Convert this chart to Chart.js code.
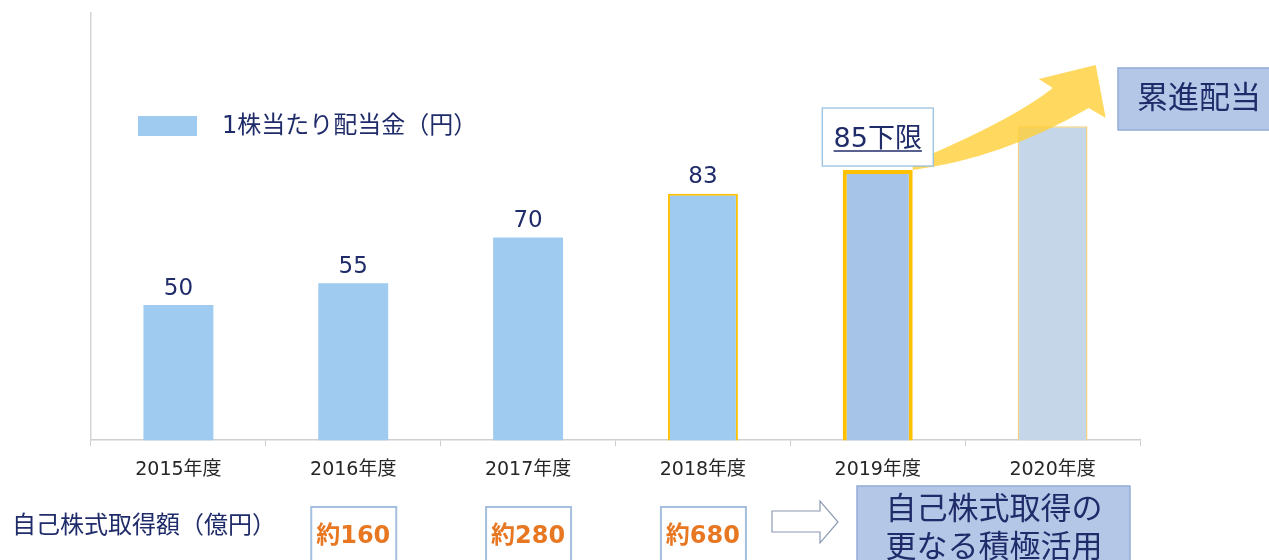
<!DOCTYPE html>
<html>
<head>
<meta charset="utf-8">
<script src="https://cdn.jsdelivr.net/npm/chart.js@4"></script>
<style>
  html, body { margin: 0; padding: 0; background: #fff; }
  #wrap { width: 1269px; height: 560px; }
</style>
</head>
<body>
<div id="wrap"><canvas id="chart"></canvas></div>
<script>
const categories = ['2015年度', '2016年度', '2017年度', '2018年度', '2019年度', '2020年度'];
// bar heights as drawn in the picture
const barValues = [50, 56.5, 70, 83, 90, 103];
const valueLabels = ['50', '55', '70', '83', '85下限', ''];
const buybackLabels = ['', '約160', '約280', '約680', '', ''];
const legendLabel = '1株当たり配当金（円）';
const buybackTitle = '自己株式取得額（億円）';
const progressiveText = '累進配当';
const buybackNote = ['自己株式取得の', '更なる積極活用'];

const barFills = ['#9ecbef', '#9ecbef', '#9ecbef', '#9ecbef', '#a6c3e8', '#c6d6e9'];
const barEdges = ['#9ecbef', '#9ecbef', '#9ecbef', '#ffc000', '#ffc000', '#f2d27e'];
const barEdgeWidths = [0, 0, 0, 2, 4, 1.5];

const FONT = '"DejaVu Sans", "Noto Sans CJK JP", sans-serif';
const NAVY = '#202c6a';

const overlay = {
  id: 'overlay',
  afterDatasetsDraw(chart) {
    const ctx = chart.ctx;
    const bars = chart.getDatasetMeta(0).data;
    const xs = chart.scales.x;
    ctx.save();

    // value labels above bars
    ctx.fillStyle = NAVY;
    ctx.font = '23px ' + FONT;
    ctx.textAlign = 'center';
    ctx.textBaseline = 'bottom';
    for (let i = 0; i < 4; i++) {
      ctx.fillText(valueLabels[i], bars[i].x, bars[i].y - 5);
    }

    // yellow rising arrow from the 2019 bar
    const b4 = bars[4];
    const rx = b4.x + b4.width / 2, ty = b4.y;
    ctx.fillStyle = 'rgba(255, 208, 55, 0.8)';
    ctx.beginPath();
    ctx.moveTo(rx, ty - 8);
    ctx.quadraticCurveTo(rx + 100, ty - 50, rx + 140, ty - 82);
    ctx.lineTo(rx + 126, ty - 91);
    ctx.lineTo(rx + 183, ty - 105);
    ctx.lineTo(rx + 193, ty - 52);
    ctx.lineTo(rx + 176, ty - 62);
    ctx.quadraticCurveTo(rx + 90, ty - 12, rx, ty);
    ctx.closePath();
    ctx.fill();

    // 85下限 box
    const bw = 111, bh = 58;
    const bx = b4.x - bw / 2, by = ty - 4 - bh;
    ctx.fillStyle = '#fff';
    ctx.fillRect(bx, by, bw, bh);
    ctx.strokeStyle = '#8fbbe0';
    ctx.lineWidth = 1.2;
    ctx.strokeRect(bx, by, bw, bh);
    ctx.fillStyle = NAVY;
    ctx.font = '27px ' + FONT;
    ctx.textBaseline = 'alphabetic';
    const lbl = valueLabels[4];
    const tw = ctx.measureText(lbl).width;
    const base = by + bh / 2 + 10;
    ctx.fillText(lbl, b4.x, base);
    ctx.strokeStyle = NAVY;
    ctx.lineWidth = 1.5;
    ctx.beginPath();
    ctx.moveTo(b4.x - tw / 2, base + 4);
    ctx.lineTo(b4.x + tw / 2, base + 4);
    ctx.stroke();

    // 累進配当 box
    ctx.fillStyle = '#b4c7e7';
    ctx.fillRect(1118, 68, 170, 62);
    ctx.strokeStyle = '#93acd6';
    ctx.lineWidth = 1.5;
    ctx.strokeRect(1118, 68, 170, 62);
    ctx.fillStyle = NAVY;
    ctx.font = '31px ' + FONT;
    ctx.textAlign = 'left';
    ctx.textBaseline = 'middle';
    ctx.fillText(progressiveText, 1137, 100);

    // legend
    ctx.fillStyle = barFills[0];
    ctx.fillRect(138, 116, 59, 20);
    ctx.fillStyle = NAVY;
    ctx.font = '24px ' + FONT;
    ctx.fillText(legendLabel, 222, 127);

    // buyback row
    ctx.font = '24px ' + FONT;
    ctx.fillText(buybackTitle, 12, 527);
    buybackLabels.forEach((t, i) => {
      if (!t) return;
      const cx = xs.getPixelForValue(i);
      ctx.fillStyle = '#fff';
      ctx.fillRect(cx - 42, 507, 85, 60);
      ctx.strokeStyle = '#a3bedf';
      ctx.lineWidth = 2;
      ctx.strokeRect(cx - 42, 507, 85, 60);
      ctx.fillStyle = '#e87722';
      ctx.font = 'bold 24px ' + FONT;
      ctx.textAlign = 'center';
      ctx.fillText(t, cx, 537);
    });

    // hollow arrow
    ctx.fillStyle = '#fff';
    ctx.strokeStyle = '#8c9ab2';
    ctx.lineWidth = 1.2;
    ctx.beginPath();
    ctx.moveTo(772, 511);
    ctx.lineTo(820, 511);
    ctx.lineTo(820, 501);
    ctx.lineTo(838, 522);
    ctx.lineTo(820, 543);
    ctx.lineTo(820, 532);
    ctx.lineTo(772, 532);
    ctx.closePath();
    ctx.fill();
    ctx.stroke();

    // note box
    ctx.fillStyle = '#b4c7e7';
    ctx.fillRect(857, 486, 273, 90);
    ctx.strokeStyle = '#93acd6';
    ctx.lineWidth = 1.5;
    ctx.strokeRect(857, 486, 273, 90);
    ctx.fillStyle = NAVY;
    ctx.font = '31px ' + FONT;
    ctx.textAlign = 'center';
    ctx.fillText(buybackNote[0], 994, 511);
    ctx.fillText(buybackNote[1], 994, 549);

    ctx.restore();
  }
};

new Chart(document.getElementById('chart'), {
  type: 'bar',
  data: {
    labels: categories,
    datasets: [{
      label: legendLabel,
      data: barValues,
      backgroundColor: barFills,
      borderColor: barEdges,
      borderWidth: barEdgeWidths,
      borderSkipped: false,
      barPercentage: 0.4,
      categoryPercentage: 1
    }]
  },
  options: {
    responsive: true,
    maintainAspectRatio: false,
    animation: false,
    devicePixelRatio: 1,
    layout: { padding: { left: 91, right: 129, top: 13, bottom: 67 } },
    plugins: { legend: { display: false }, tooltip: { enabled: false } },
    scales: {
      x: {
        grid: { display: true, drawOnChartArea: false, drawTicks: true, tickLength: 6, color: '#cfcfcf', offset: true },
        border: { display: true, color: '#cfcfcf', width: 1.5 },
        ticks: { color: '#262626', font: { size: 19, family: FONT }, padding: 12, maxRotation: 0 }
      },
      y: {
        min: 10,
        max: 136.5,
        grid: { display: false, drawTicks: false },
        border: { display: true, color: '#d6d6d6', width: 1.5 },
        ticks: { display: false }
      }
    }
  },
  plugins: [overlay]
});
</script>
</body>
</html>
